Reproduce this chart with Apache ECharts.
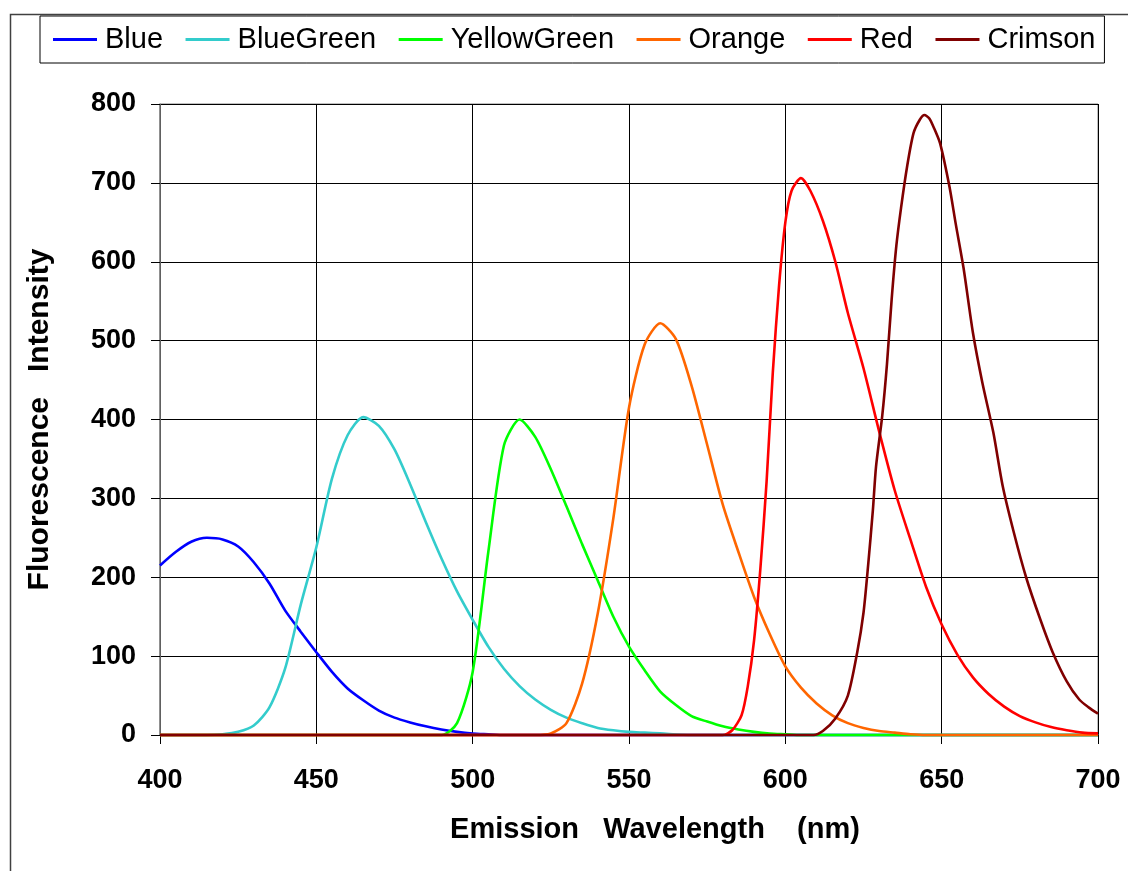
<!DOCTYPE html>
<html>
<head>
<meta charset="utf-8">
<script src="https://cdn.jsdelivr.net/npm/echarts@6/dist/echarts.min.js"></script>
<style>
	html, body { margin: 0; padding: 0; background: #fff; }
	#line1 { width: 1128px; height: 871px; }
</style>
</head>
<body>
<div id="line1"></div>
<script>
// emission spectra (wavelength nm / intensity)
var blueWl = [400, 405, 410, 415, 420, 425, 430, 435, 440, 445, 450, 455, 460, 465, 470, 475, 480, 485, 490, 495, 500, 505, 510, 700];
var blueVal = [215, 232, 245, 250, 248, 239, 219, 192, 158, 131, 105, 80, 59, 44, 31, 22, 16, 11, 7, 4, 2, 1, 0, 0];

var blueGreenWl = [400, 415, 420, 425, 430, 435, 440, 445, 450, 455, 460, 465, 470, 475, 480, 485, 490, 495, 500, 505, 510, 515, 520, 525, 530, 535, 540, 545, 550, 555, 560, 570, 700];
var blueGreenVal = [0, 0, 1, 4, 12, 35, 84, 165, 238, 325, 380, 403, 392, 362, 318, 270, 224, 182, 146, 112, 84, 62, 45, 32, 22, 15, 9, 6, 4, 3, 2, 0, 0];

var yellowGreenWl = [400, 490, 495, 500, 505, 510, 515, 520, 525, 530, 535, 540, 545, 550, 555, 560, 565, 570, 575, 580, 585, 590, 595, 600, 605, 700];
var yellowGreenVal = [0, 0, 15, 80, 232, 367, 400, 378, 337, 290, 242, 196, 150, 112, 82, 55, 38, 24, 17, 11, 7, 4, 2, 1, 0, 0];

var orangeWl = [400, 520, 525, 530, 535, 540, 545, 550, 555, 560, 565, 570, 575, 580, 585, 590, 595, 600, 605, 610, 615, 620, 625, 630, 635, 640, 645, 700];
var orangeVal = [0, 0, 2, 15, 65, 154, 275, 415, 495, 522, 502, 443, 368, 292, 232, 175, 128, 87, 60, 40, 25, 15, 9, 5, 3, 1, 0, 0];

var redWl = [400, 580, 583, 586, 588, 590, 592, 594, 596, 598, 600, 602, 605, 608, 612, 616, 620, 625, 630, 635, 640, 645, 650, 655, 660, 665, 670, 675, 680, 685, 690, 695, 700];
var redVal = [0, 0, 6, 25, 62, 120, 210, 321, 460, 570, 650, 690, 706, 690, 652, 600, 535, 465, 385, 310, 248, 188, 140, 102, 73, 52, 36, 24, 16, 10, 6, 3, 2];

var crimsonWl = [400, 609, 612, 616, 620, 623, 625, 626.5, 628, 629, 631, 632.5, 634, 635.5, 637, 639, 641, 643, 644.5, 646, 647.5, 649.5, 652.5, 654.5, 657, 660, 663, 666.5, 669.5, 673, 677, 681.5, 685.5, 690, 694, 697, 700];
var crimsonVal = [0, 0, 5, 21, 50, 105, 155, 216, 285, 340, 405, 470, 552, 620, 668, 722, 763, 780, 786, 782, 770, 750, 695, 648, 592, 510, 447, 384, 316, 258, 200, 147, 105, 68, 45, 35, 27];

var seriesNames = ['Blue', 'BlueGreen', 'YellowGreen', 'Orange', 'Red', 'Crimson'];
var seriesColors = ['#0000ff', '#33cccc', '#00ff00', '#ff6600', '#ff0000', '#800000'];
var seriesWl = [blueWl, blueGreenWl, yellowGreenWl, orangeWl, redWl, crimsonWl];
var seriesVal = [blueVal, blueGreenVal, yellowGreenVal, orangeVal, redVal, crimsonVal];

var xTicks = { min : 400, max : 700, interval : 50 };
var yTicks = { min : 0, max : 800, interval : 100 };

var FONT = 'Liberation Sans';

function pairs(wl, val) {
	var out = [];
	for (var i = 0; i < wl.length; i++) {
		out.push([wl[i], val[i]]);
	}
	return out;
}

var series = [];
for (var i = 0; i < seriesNames.length; i++) {
	series.push({
		name : seriesNames[i],
		type : 'line',
		symbol : 'none',
		smooth : 0.25,
		clip : false,
		color : seriesColors[i],
		lineStyle : { width : 2.6, color : seriesColors[i] },
		data : pairs(seriesWl[i], seriesVal[i])
	});
}

var chart = echarts.init(document.getElementById('line1'));

var option = {
	backgroundColor : '#fff',
	animation : false,
	graphic : [ {
		type : 'rect',
		left : 8,
		top : 12,
		shape : { width : 1200, height : 900 },
		style : { fill : 'none', stroke : '#404040', lineWidth : 1.5 },
		z : -1
	} ],
	legend : {
		left : 40,
		top : 16,
		padding : [ 9, 9, 9, 13 ],
		itemGap : 22.5,
		itemWidth : 44,
		itemHeight : 3,
		icon : 'rect',
		backgroundColor : '#fff',
		borderColor : '#000',
		borderWidth : 1,
		textStyle : {
			fontFamily : FONT,
			fontSize : 29,
			color : '#000',
			padding : [ 4, 0, 0, 3 ]
		},
		data : seriesNames
	},
	grid : {
		left : 160,
		right : 30,
		top : 104,
		bottom : 136,
		show : true,
		borderColor : '#808080',
		borderWidth : 1
	},
	xAxis : {
		type : 'value',
		min : xTicks.min,
		max : xTicks.max,
		interval : xTicks.interval,
		name : 'Emission   Wavelength    (nm)',
		nameLocation : 'middle',
		nameGap : 80,
		nameTextStyle : {
			fontFamily : FONT,
			fontSize : 29,
			fontWeight : 'bold',
			color : '#000',
			padding : [ 0, 0, 0, 52 ]
		},
		axisLine : { show : true, lineStyle : { color : '#808080', width : 1.5 } },
		axisTick : { show : true, length : 9, lineStyle : { color : '#000' } },
		axisLabel : {
			margin : 32,
			fontFamily : FONT,
			fontSize : 27,
			fontWeight : 'bold',
			color : '#000'
		},
		splitLine : { show : true, lineStyle : { color : '#000', width : 1 } }
	},
	yAxis : {
		type : 'value',
		min : yTicks.min,
		max : yTicks.max,
		interval : yTicks.interval,
		name : 'Fluorescence   Intensity',
		nameLocation : 'middle',
		nameGap : 105,
		nameTextStyle : {
			fontFamily : FONT,
			fontSize : 30,
			fontWeight : 'bold',
			color : '#000'
		},
		axisLine : { show : true, lineStyle : { color : '#808080', width : 1.5 } },
		axisTick : { show : true, length : 9, lineStyle : { color : '#000' } },
		axisLabel : {
			margin : 24,
			fontFamily : FONT,
			fontSize : 27,
			fontWeight : 'bold',
			color : '#000'
		},
		splitLine : { show : true, lineStyle : { color : '#000', width : 1 } }
	},
	series : series
};

chart.setOption(option);
</script>
</body>
</html>
